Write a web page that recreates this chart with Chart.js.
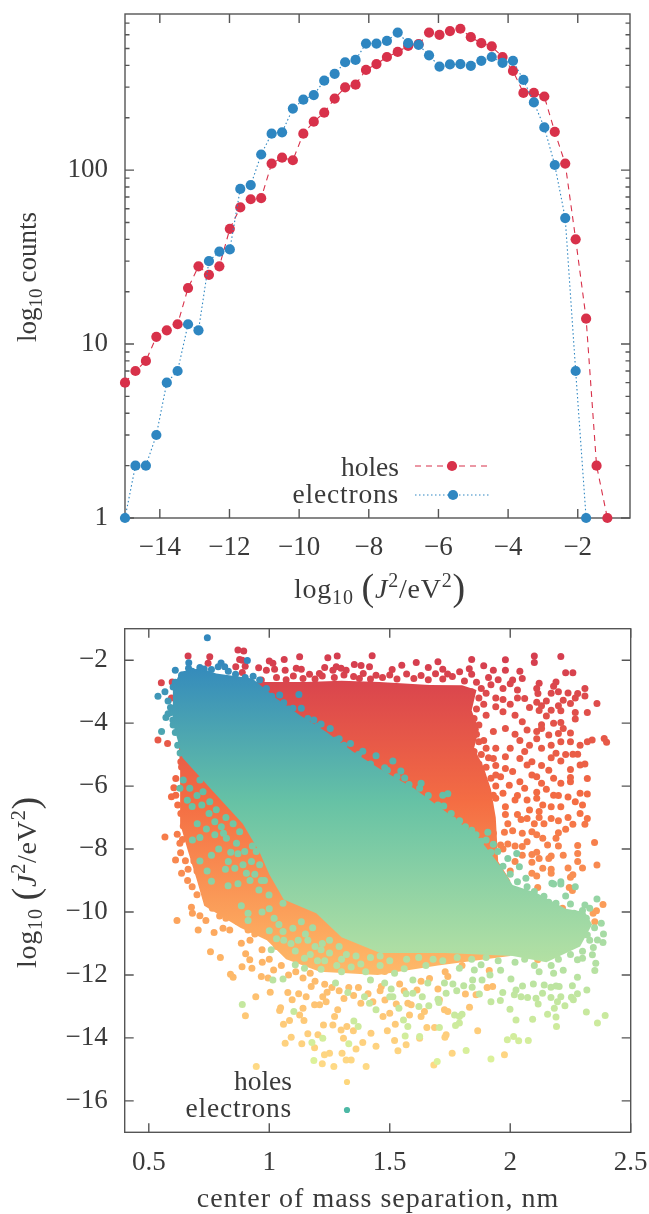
<!DOCTYPE html>
<html><head><meta charset="utf-8">
<style>html,body{margin:0;padding:0;background:#fff}canvas{display:block}</style>
<script src="https://cdn.jsdelivr.net/npm/chart.js@4"></script>
</head><body>
<canvas id="top" width="649" height="612"></canvas>
<canvas id="bottom" width="649" height="602"></canvas>
<script>
const binCentres=[-15,-14.7,-14.4,-14.1,-13.8,-13.49,-13.19,-12.89,-12.59,-12.29,-11.99,-11.69,-11.39,-11.09,-10.79,-10.49,-10.18,-9.88,-9.58,-9.28,-8.98,-8.68,-8.38,-8.08,-7.78,-7.48,-7.17,-6.87,-6.57,-6.27,-5.97,-5.67,-5.37,-5.07,-4.77,-4.47,-4.16,-3.86,-3.56,-3.26,-2.96,-2.66,-2.36,-2.06,-1.76,-1.46,-1.15];
const holeCounts=[6,7,8,11,12,13,21,28,25,28,46,61,68,69,109,118,114,162,190,214,258,299,310,377,407,447,478,518,530,618,600,630,650,581,537,514,447,372,278,278,265,166,109,40,14,2,1];
const electronCounts=[1,2,2,3,6,7,13,12,30,34,35,78,82,123,162,165,226,254,270,327,358,417,430,534,534,553,618,537,525,457,394,405,407,398,425,447,414,425,330,245,176,107,53,7,1];
const topXTicks=[-14,-12,-10,-8,-6,-4,-2];
const topYTicks=[1,10,100];
const topYMinor=[2,3,4,5,6,7,8,9,20,30,40,50,60,70,80,90,200,300,400,500,600,700];
const botXTicks=[0.5,1,1.5,2,2.5];
const botYTicks=[-2,-4,-6,-8,-10,-12,-14,-16];

// outlines of the solid parts of the two clouds
const holesCloud=[[.6,-2.8],[.75,-2.7],[.99,-2.69],[1.15,-2.69],[1.3,-2.65],[1.458,-2.69],[1.665,-2.79],[1.8,-2.8],[1.86,-2.95],[1.84,-3.6],[1.87,-4.2],[1.85,-4.8],[1.89,-5.4],[1.92,-6.1],[1.94,-7],[1.95,-8.4],[2,-9],[2,-11.4],[1.7,-11.7],[1.45,-12],[1.21,-11.9],[1.07,-11.5],[.99,-10.9],[.88,-10.5],[.73,-9.8],[.7,-9],[.66,-8],[.63,-7.2],[.63,-5.5],[.62,-4]];
const electronsCloud=[[.6,-2.9],[.63,-2.37],[.712,-2.26],[.78,-2.42],[.93,-2.58],[1.03,-3.22],[1.127,-3.75],[1.237,-4.28],[1.348,-4.91],[1.458,-5.45],[1.6,-6.07],[1.73,-6.8],[1.87,-7.66],[1.955,-8.5],[2.01,-9.14],[2.11,-9.4],[2.23,-9.9],[2.31,-10],[2.34,-10.4],[2.29,-11.1],[2.15,-11.6],[2.01,-11.4],[1.73,-11.3],[1.46,-11.3],[1.3,-10.8],[1.195,-10.04],[1.06,-9.6],[1.0,-8.8],[.96,-8.1],[.89,-7.2],[.77,-6.2],[.64,-5.1],[.6,-4]];

const holeDots=[[.663,-1.87],[.753,-1.89],[.87,-1.68],[.894,-1.71],[.877,-1.98],[.888,-2],[.746,-2.1],[.861,-2.21],[.9,-2.19],[.888,-2.39],[.956,-2.24],[1,-2.03],[1.015,-2.1],[1.062,-1.98],[1.126,-1.89],[1.243,-1.92],[1.282,-1.87],[1.427,-1.86],[1.353,-2.14],[1.381,-2.17],[1.416,-2.21],[1.23,-2.23],[.988,-2.32],[1.022,-2.29],[1.066,-2.32],[1.112,-2.26],[1.133,-2.29],[1.167,-2.45],[1.208,-2.42],[1.278,-2.21],[1.298,-2.26],[1.319,-2.32],[1.264,-2.32],[1.374,-2.58],[1.443,-2.48],[.967,-2.63],[.552,-2.72],[.597,-2.69],[.538,-4.54],[.578,-4.65],[.594,-3.2],[.633,-5.23],[.636,-5.39],[.612,-5.76],[.604,-6.05],[.594,-6.34],[.612,-6.29],[.633,-6.87],[.643,-7.27],[.567,-7.62],[.618,-7.53],[.629,-7.82],[.632,-8.12],[.611,-8.35],[.652,-8.37],[.687,-8.38],[.636,-8.77],[.663,-8.64],[.661,-9],[.673,-7.77],
[1.51,-2.3],[1.55,-2.16],[1.61,-2.07],[1.66,-2.23],[1.7,-2.05],[1.72,-2.29],[1.74,-2.44],[1.83,-2.27],[1.84,-1.98],[1.89,-2.18],[1.93,-2.32],[1.98,-2.32],[1.98,-1.99],[2.04,-2.35],[2.1,-1.87],[2.1,-2.07],[2.21,-1.88],[2.23,-2.4],[2.26,-2.4],[2.12,-2.73],[2.19,-2.69],[2.18,-2.83],[2.31,-2.9],[2.05,-2.58],[2.01,-2.63],[2.11,-2.9],[2.115,-3.06],[2.2,-3],[2.24,-3.04],[2.28,-3.06],[2.31,-3.14],[2.06,-3.22],[2.13,-3.45],[2.11,-3.34],[2.22,-3.27],[2.25,-3.38],[2.36,-3.38],[2.32,-3.66],[2.17,-3.59],[2.21,-3.61],[2.27,-3.66],[2.15,-3.77],[2.27,-3.87],[2.21,-3.98],[2.22,-4.17],[2.25,-4.31],[2.2,-4.33],[2.21,-4.59],[2.25,-4.59],[2.29,-4.7],[2.32,-4.59],[2.34,-4.54],[2.39,-4.49],[2.4,-4.61],[2.11,-4.27],[2.07,-4.22],[2.13,-4.17],[2.16,-4.38],[2.17,-4.7],[2.13,-4.8],[2.19,-4.96],[2.26,-4.99],[2.28,-4.99],[2.31,-5.3],[2.29,-5.33],[2.25,-5.47],[2.32,-5.76],[2.25,-5.73],[2.25,-5.86],[2.21,-5.91],[2.13,-5.91],[2.09,-5.65],[2.06,-6.07],[2.18,-6.29],[2.29,-6.23],[2.32,-6.25],[2.27,-6.5],[2.3,-6.6],[2.29,-6.87],[2.32,-7.03],[2.31,-7.21],[2.26,-7.21],[2.23,-7.37],[2.2,-7.48],[2.19,-7.66],[2.155,-7.87],[2.17,-8.22],[2.28,-7.89],[2.28,-8.14],[2.28,-8.4],[2.35,-7.79],[2.36,-8.51],[2.12,-8.3],[2.09,-8.17],[2.09,-8.42],[2.135,-8.61],[2.17,-8.64],[2.17,-8.77],[2.09,-8.77],[2.11,-8.86],[2.26,-8.82],[2.25,-8.9],
[1.94,-3.48],[1.97,-3.64],[1.9,-3.75],[1.87,-4.06],[1.93,-4.27],[1.98,-4.17],[2.02,-3.75],[2.05,-3.96],[1.94,-4.8],[1.9,-4.8],[1.98,-5.07],[1.93,-5.12],[1.87,-4.59],[2.04,-5.12],[2.09,-5.23],[2.07,-5.33],[2.01,-5.54],[1.98,-5.44],[1.94,-5.65],[2.04,-5.86],[1.996,-5.97],[1.97,-6.23],[1.93,-6.29],[2.02,-6.44],[1.98,-6.66],[1.94,-6.39],[2.07,-6.44],[2.11,-6.39],[2.135,-6.6],[2.17,-6.66],[2.21,-6.66],[2.12,-6.81],[2.08,-6.76],[2.045,-7.06],[2.07,-7.03],[2.17,-7.03],[2.01,-7.42],[2.05,-7.5],[2.09,-7.45],[2.11,-7.55],[2.135,-7.66],[2.07,-7.77],[2.05,-7.92],[1.976,-7.47],[1.96,-7.87],[1.99,-7.84],
[1.03,-2.55],[1.07,-2.62],[1.1,-2.5],[1.14,-2.58],[1.19,-2.6],[1.22,-2.5],[1.27,-2.55],[1.31,-2.47],[1.35,-2.52],[1.39,-2.42],[1.42,-2.6],[1.47,-2.55],[1.5,-2.47],[1.53,-2.6],[1.57,-2.44],[1.6,-2.58],[1.63,-2.49],[1.66,-2.62],[1.69,-2.43],[1.72,-2.6],[1.76,-2.52],[1.79,-2.37],[1.81,-2.66],[1.84,-2.45],[1.86,-2.7],[1.88,-2.9],[1.91,-2.55],[1.92,-2.78],[1.95,-2.62],[1.97,-2.9],[2,-2.75],[2.03,-2.95],[1.84,-3],[1.87,-3.2],[1.9,-3.05],[1.94,-3.2],[1.97,-3.25],[2,-3.4],[1.83,-3.35],[1.86,-3.55],[1.89,-3.4],[1.82,-3.7],[1.85,-3.85],[1.83,-4.2],[1.86,-4.35],[1.84,-4.6],[1.89,-4.55],[1.85,-4.9],[1.88,-5],[1.91,-5.1],[1.87,-5.3],[1.9,-5.4],[1.94,-5.35],[1.92,-5.75],[1.89,-5.85],[1.96,-5.7],[1.9,-6.1],[1.94,-6],
[2.02,-4.35],[2.04,-4.55],[2.08,-4.7],[2,-4.8],[2.06,-4.9],[2.12,-3.6],[2.03,-3.2],[2.08,-3.5],[2.17,-3.05],[2.15,-3.3],[2.27,-3.2],[2.2,-3.45],[2.18,-4],[2.13,-4.05],[2.11,-4.5],[2.21,-5.2],[2.17,-5.1],[2.23,-5],[2.16,-5.5],[2.13,-5.35],[2.18,-5.75],[2.11,-5.7],[2.15,-6.1],[2.11,-6.2],[2.03,-6.3],[2.24,-6.35],[2.2,-6.3],[2.14,-7.2],[2.12,-7],[2.03,-6.9],[1.99,-7.2],[2.1,-7.2],[2.2,-7.1],[2.24,-7],[2.05,-8.2],[2.02,-7.9],[1.97,-8],[2,-8.7],[2.02,-8.4],[1.95,-8.6],[2.11,-8.1],[2.16,-8.3],[2.2,-7.9],[2.22,-8.2],[2.24,-8.6],[2.3,-8.6],[1.98,-6.9],[1.92,-7],[1.93,-7.5],
[2.114,-9.22],[2.217,-9.88],[2.385,-9.76],[2.358,-9.96],[2.344,-10.04],[2.351,-10.31],[2.245,-9.22],[2.258,-9.32],[2.169,-9.83],[2.114,-11.52],[1.913,-11.86],[1.927,-12.37],[1.904,-12.4],[1.858,-12.63],[1.814,-12.61],[1.831,-13.03],[1.865,-13.77],[1.976,-14.54],[1.759,-14.49],[1.683,-14.86],[1.734,-13.9],[1.729,-13.98],[1.686,-13.67],[1.654,-13.67],[1.727,-13.11],[1.741,-13.16],[1.63,-13.32],[1.582,-13.27],[1.523,-13.57],[1.49,-13.77],[1.52,-14.08],[1.568,-14.22],[1.534,-14.41],[1.624,-14.01],[1.5,-13.22],[1.472,-13.32],[1.644,-13.16],[1.589,-12.95],[1.527,-12.92],[1.706,-12.79],[1.575,-12.9],[1.613,-12.48],[1.7,-12.45],[1.665,-12.11],[1.741,-12.05],[1.541,-12.29],[1.465,-12.37],[1.727,-11.42],[1.513,-11.63],[1.479,-11.89],[1.589,-11.15],[1.789,-10.73],[1.81,-10.89],[1.913,-10.76],
[.617,-10.27],[.756,-11.26],[.797,-11.45],[.839,-11.98],[.85,-12.07],[.887,-11.74],[.928,-11.79],[.705,-10.57],[.771,-10.65],[.808,-10.52],[.836,-10.57],[.677,-9.85],[.681,-10.04],[.712,-10.12],[.737,-10.27],[.764,-9.88],[.794,-10.13],[.822,-9.99],[.87,-10.31],[.912,-10.57],[.884,-10.99],[.902,-11.33],[.919,-11.52],[.971,-11.6],[.944,-12.69],[1.004,-12.55],[.901,-13.3],[.946,-14.91],[1.047,-13.04],[1.043,-13.13],[1.14,-13.06],[1.084,-13.45],[1.059,-13.57],[1.126,-13.27],[1.144,-13.45],[.967,-12.05],[.995,-12.1],[1.018,-11.84],[1.077,-12.56],[1.122,-12.6],[1.095,-12.79],[1.153,-12.69],[1.174,-12.37],[1.066,-14.17],[1.091,-13.98],[1.135,-14.19],[1.16,-13.87],[1.188,-14.31],[1.202,-13.9],[1.225,-13.59],[1.264,-13.59],[1.284,-13.11],[1.271,-13.32],[1.222,-12.69],[1.236,-12.85],[1.209,-12.95],[1.188,-12.95],[1.298,-13.75],[1.322,-13.64],[1.308,-14.01],[1.349,-13.77],[1.422,-13.85],[1.443,-14.27],[1.388,-14.15],[1.36,-14.35],[1.302,-14.49],[1.319,-14.7],[1.34,-14.7],[1.25,-14.49],[1.229,-14.54],[1.22,-14.82],[1.268,-14.91],[1.402,-14.91],
[.62,-6.6],[.65,-6.1],[.66,-5.5],[.64,-7.7],[.66,-7.1],[.68,-8],[.7,-8.7],[.73,-9.3],[.68,-9.2],[.7,-9.45],[.74,-9.6],[.78,-9.8],[.82,-10.2],[.86,-10.1],[.9,-10.4],[.94,-10.7],[.92,-10.9],[.97,-11.2],[1,-11.5],[1.03,-11.1],[1.05,-11.7],[1.08,-12],[1.11,-11.9],[1.14,-12.1],[1.17,-11.95],[1.19,-12.2],[1.23,-12.3],[1.26,-12.4],[1.24,-12.55],[1.29,-12.5],[1.31,-12.75],[1.33,-12.4],[1.35,-12.65],[1.37,-12.4],[1.38,-12.9],[1.41,-12.6],[1.43,-12.85],[1.46,-12.5],[1.48,-12.8],[1.56,-12.5],[1.63,-12.2],[1.73,-11.9],[1.8,-11.7]];

const electronDots=[[.743,-1.29],[.666,-2.08],[.909,-2.01],[.61,-2.32],[.665,-2.26],[.712,-2.23],[.8,-2.09],[.788,-2.21],[.815,-2.21],[.567,-3],[.538,-3.15],[.601,-2.85],[.636,-2.48],[.553,-4.27],[.571,-3.82],[.594,-3.66],[.601,-4.06],[.933,-2.51],[.96,-2.63],[.988,-2.9],[1.043,-3.11],[1.123,-3.09],[1.098,-3.53],[1.133,-3.53],[1.185,-3.9],[1.253,-4.17],[1.215,-4.03],[1.277,-4.54],[1.337,-4.65],[1.388,-4.89],[1.323,-5],[1.443,-5.04],[1.513,-5.2],[1.479,-5.42],[1.546,-5.52],[1.562,-5.74],[1.63,-5.91],[1.624,-6.07],[1.72,-6.29],[1.741,-6.24],[1.724,-6.63],[1.755,-6.87],[1.762,-7.08],[1.814,-7.29],[1.858,-7.55],[1.907,-7.47],[1.9,-7.71],[1.93,-7.85],[1.948,-8.08],[1.99,-8.3],[2.027,-8.14],[2.038,-8.56],[2.03,-9.04],[2.065,-8.93],[2.173,-9.09],[2.21,-9.04],
[.629,-6.07],[.643,-5.81],[.67,-6.07],[.712,-5.81],[.725,-6.18],[.753,-6.5],[.701,-7.2],[.739,-7.36],[.681,-7.71],[.712,-7.63],[.75,-6.87],[.774,-7.13],[.801,-7.29],[.774,-7.55],[.822,-7.66],[.864,-7.82],[.877,-7.45],[.898,-8.08],[.926,-8.4],[.712,-8.38],[.742,-8.7],[.818,-8.64],[.857,-8.61],[.891,-8.5],[.905,-8.77],[.946,-8.08],[.967,-9],[.76,-9.02],[.829,-9.17],[.884,-9.8],[.912,-10.04],[.912,-10.27],[.957,-9.3],[.999,-9.46],[1.057,-9.72],[1.057,-10.62],[1.098,-10.52],[1.133,-10.31],[1.008,-11.2],[1.108,-11.24],[1.146,-11.47],[1.108,-11.68],[1.146,-11.79],[1.015,-12.16],[1.057,-12.13],[1.215,-11.2],[1.215,-11.82],[1.275,-12.26],[1.326,-12.56],[1.42,-12.16],[1.395,-12.69],[1.416,-12.9],[1.443,-13.11],[.888,-12.94],[1.102,-13.16],[1.351,-13.46],[1.369,-13.64],[1.222,-14.01],[1.177,-14.15],[1.33,-14.19],[1.185,-14.72],
[1.25,-11.3],[1.3,-11.5],[1.34,-11.75],[1.38,-11.65],[1.4,-11.9],[1.28,-11.7],[1.19,-11.1],[1.16,-10.9],
[.66,-6.45],[.68,-6.65],[.72,-6.6],[.7,-6.3],[.78,-6.75],[.82,-7],[.85,-7.2],[.81,-7.5],[.84,-8.1],[.87,-8.15],[.79,-8],[.83,-8.4],[.76,-8.2],[.93,-7.9],[.96,-8.5],[.94,-8.8],[.87,-9.1],[.92,-9],[.98,-9],[1,-9.9],[1.02,-10.2],[.97,-10],[1.04,-10.4],[1,-10.6],[1.06,-10.9],[1.03,-10.85],[1.09,-11],[1.12,-10.9],[1.15,-10.7],[1.18,-10.5],[1.22,-11],[1.25,-10.9],[1.29,-11.1],[1.32,-11.35],[1.36,-11.4],[1.42,-11.45],[1.46,-11.4],[1.5,-11.55],[1.57,-11.5],[1.62,-11.45],[1.68,-11.5],[1.72,-11.55],[1.78,-11.45],[1.84,-11.5],[1.9,-11.45],[1.95,-11.55],[2.02,-11.6],[2.06,-11.5],[2.1,-11.7],[2.17,-11.7],[2.25,-11.35],[2.2,-11.5],[2.3,-11.25],[2.33,-10.9],[2.35,-10.5],[2.3,-9.95],[2.25,-9.75],[2.14,-9.5],[2.07,-9.2],[1.23,-11.55],[1.3,-11.9],[1.2,-11.55],[1.17,-11.35],
[.58,-3.3],[.59,-3.5],[.6,-3.9],[.61,-4.3],[.62,-4.7],[.63,-4.95],[.62,-3.1],[.61,-2.7],[.64,-2.6],[.58,-3.7],[.68,-2.35],[.73,-2.28],[.76,-2.3],[.83,-2.35],[.86,-2.45],[.9,-2.55],[.98,-3],[1.01,-3.15],[1.06,-3.35],[1.08,-3.55],[1.16,-3.85],[1.2,-4.1],[1.29,-4.5],[1.31,-4.7],[1.37,-5],[1.42,-5.3],[1.49,-5.5],[1.53,-5.7],[1.58,-5.95],[1.66,-6.3],[1.7,-6.6],[1.79,-7.1],[1.84,-7.4],[1.88,-7.75],[1.92,-8.1],[1.97,-8.55],[2,-8.8],
[2.01,-9.32],[2.05,-9.51],[2.1,-9.35],[2.11,-9.62],[2.18,-9.11],[2.21,-9.11],[2.27,-9.2],[2.12,-9.72],[2.16,-9.69],[2.19,-9.72],[2.23,-9.49],[2.36,-9.59],[2.31,-9.78],[2.33,-9.88],[2.265,-10.04],[2.316,-10.2],[2.378,-10.36],[2.32,-10.73],[2.387,-10.7],[2.362,-10.89],[2.385,-10.97],[2.345,-11.13],[2.341,-11.36],[2.355,-11.63],[2.351,-11.86],[2.3,-11.47],[2.279,-11.52],[2.279,-12.07],[2.258,-12.34],[2.318,-12.48],[2.279,-12.6],[2.254,-12.71],[2.262,-12.79],[2.227,-12.98],[2.19,-12.35],[2.169,-12.39],[2.203,-12.37],[2.21,-12.69],[2.196,-12.85],[2.169,-12.72],[2.134,-12.58],[2.141,-12.32],[2.107,-12.74],[2.116,-12.92],[2.072,-12.72],[2.045,-12.69],[2.017,-12.63],[1.969,-12.56],[1.959,-12.81],[1.92,-12.85],[1.999,-13.09],[2.024,-13.43],[2.093,-13.41],[2.155,-13.25],[2.19,-13.34],[2.192,-13.64],[2.183,-13.06],[2.316,-13.18],[2.362,-13.53],[2.394,-13.29],[2.014,-13.96],[2.035,-14.09],[2.075,-14.08],[1.988,-14.06],[1.92,-14.67],[1.817,-14.4],[1.697,-14.75],[1.789,-13.32],[1.769,-13.27],[1.8,-13.25],[1.773,-13.61],[1.789,-13.53],[1.706,-13.67],[1.624,-13.96],[1.564,-13.94],[1.575,-13.64],[1.557,-13.43],[1.538,-13.06],[1.621,-13],[1.662,-12.98],[1.7,-12.77],[1.704,-12.88],[1.635,-12.69],[1.596,-12.58],[1.568,-12.6],[1.513,-12.69],[1.5,-12.69],[1.506,-12.45],[1.479,-12.26],[1.596,-12.16],[1.658,-12.26],[1.727,-12.26],[1.734,-12.58],[1.762,-12.29],[1.778,-12.5],[1.807,-12.34],[1.842,-12.39],[1.872,-12.61],[1.883,-12.16],[1.916,-12],[1.844,-12.16],[1.789,-11.79],[1.851,-11.84],[1.879,-11.68],[2.003,-12.13],[2.024,-12.48],[2.051,-12.35],[2.096,-12.29],
[2.12,-11.9],[2.18,-11.95],[2.22,-11.85],[1.96,-11.85],[1.56,-11.8],[1.65,-11.7],[1.46,-11.7],[1.52,-11.95]];

const holePalette=[[-2,'#D53E4F'],[-6.5,'#F46D43'],[-11,'#FDAE61'],[-15.5,'#FEE08B']];
const electronPalette=[[-2,'#3288BD'],[-6.5,'#66C2A5'],[-11,'#ABDDA4'],[-15.5,'#E6F598']];

const ink='#3a3a3a', frameColor='#555555', serif='"Liberation Serif", serif';
const tickFont={family:'"Liberation Serif", serif',size:27};

function gradientFor(palette){
  return function(ctx){
    const c=ctx.chart;
    if(!c.chartArea||!c.scales.y) return palette[1][1];
    const y=c.scales.y, h=y.getPixelForValue(palette[0][0]), l=y.getPixelForValue(palette[3][0]);
    const g=c.ctx.createLinearGradient(0,h,0,l);
    palette.forEach((s,i)=>g.addColorStop(i/3,s[1]));
    return g;
  };
}
const minusLabel=v=>String(v).replace('-','\u2212');

function drawRuns(ctx,runs,cx,cy,rot,spacing){
  ctx.save();ctx.translate(cx,cy);if(rot)ctx.rotate(rot);
  ctx.fillStyle=ink;ctx.textBaseline='alphabetic';ctx.textAlign='left';
  ctx.letterSpacing=(spacing||0)+'px';
  const fontOf=r=>(r.i?'italic ':'')+r.s+'px '+serif;
  let w=0;runs.forEach(r=>{ctx.font=fontOf(r);w+=ctx.measureText(r.t).width});
  let x=-w/2;
  runs.forEach(r=>{ctx.font=fontOf(r);ctx.fillText(r.t,x,r.d||0);x+=ctx.measureText(r.t).width});
  ctx.restore();
}
const logRuns=[{t:'log',s:28},{t:'10',s:20,d:6},{t:' ',s:28}];
const jRuns=logRuns.concat([{t:'(',s:38,d:2},{t:'J',s:28,i:1},{t:'2',s:20,d:-11},{t:'/eV',s:28},{t:'2',s:20,d:-11},{t:')',s:38,d:2}]);
const countRuns=[{t:'log',s:27},{t:'10',s:19,d:6},{t:' ',s:24},{t:'counts',s:27}];

function drawLegendText(ctx,yHoles,yElectrons,right){
  ctx.save();ctx.font='27.5px '+serif;ctx.fillStyle=ink;ctx.textAlign='right';ctx.textBaseline='alphabetic';
  ctx.fillText('holes',right,yHoles);
  ctx.letterSpacing='0.8px';ctx.fillText('electrons',right,yElectrons);
  ctx.restore();
}
function framePlugin(majorX,majorY,minorY){
  return {id:'frame',beforeDatasetsDraw(chart){
    const {ctx,chartArea:a,scales:{x,y}}=chart;
    ctx.save();ctx.strokeStyle=frameColor;ctx.lineWidth=1.4;
    ctx.strokeRect(a.left,a.top,a.right-a.left,a.bottom-a.top);
    ctx.beginPath();
    majorX.forEach(v=>{const p=x.getPixelForValue(v);ctx.moveTo(p,a.bottom);ctx.lineTo(p,a.bottom-9);ctx.moveTo(p,a.top);ctx.lineTo(p,a.top+9);});
    majorY.forEach(v=>{const p=y.getPixelForValue(v);ctx.moveTo(a.left,p);ctx.lineTo(a.left+9,p);ctx.moveTo(a.right,p);ctx.lineTo(a.right-9,p);});
    (minorY||[]).forEach(v=>{const p=y.getPixelForValue(v);ctx.moveTo(a.left,p);ctx.lineTo(a.left+4.5,p);ctx.moveTo(a.right,p);ctx.lineTo(a.right-4.5,p);});
    ctx.stroke();ctx.restore();
  }};
}
function baseScale(tickList,cb,pad,fit){
  return {
    grid:{display:false,drawTicks:false},border:{display:false},
    afterBuildTicks(s){s.ticks=tickList.map(v=>({value:v}))},
    afterFit(s){fit(s);s.paddingLeft=s.paddingRight=s.paddingTop=s.paddingBottom=0},
    ticks:{font:tickFont,color:ink,padding:pad,autoSkip:false,maxRotation:0,callback:cb}
  };
}
const common=(r,t)=>({responsive:false,animation:false,events:[],
  layout:{autoPadding:false,padding:{left:0,right:r,top:t,bottom:0}},
  plugins:{legend:{display:false},tooltip:{enabled:false}}});

new Chart(document.getElementById('top'),{
  type:'scatter',
  data:{datasets:[
    {label:'holes',order:1,data:holeCounts.map((v,i)=>({x:binCentres[i],y:v})),showLine:true,borderColor:'#d8314a',borderWidth:1.1,borderDash:[6,5],pointRadius:5.1,pointBackgroundColor:'#d8314a',pointBorderWidth:0,clip:false},
    {label:'electrons',order:0,data:electronCounts.map((v,i)=>({x:binCentres[i],y:v})),showLine:true,borderColor:'#2e86c1',borderWidth:1.1,borderDash:[1.5,2.5],pointRadius:5.1,pointBackgroundColor:'#2e86c1',pointBorderWidth:0,clip:false}
  ]},
  options:Object.assign(common(19,14),{scales:{
    x:Object.assign(baseScale(topXTicks,minusLabel,14,s=>{s.height=94}),{type:'linear',min:-15,max:-0.5}),
    y:Object.assign(baseScale(topYTicks,v=>String(v),17,s=>{s.width=125}),{type:'logarithmic',min:1,max:790})
  }}),
  plugins:[framePlugin(topXTicks,topYTicks,topYMinor),{id:'texts',afterDraw(c){
    const ctx=c.ctx;
    drawRuns(ctx,jRuns,380,598,0,0.8);
    drawRuns(ctx,countRuns,36,277,-Math.PI/2);
    drawLegendText(ctx,476,503,399);
    ctx.save();ctx.lineWidth=1.1;
    ctx.strokeStyle='#d8314a';ctx.setLineDash([6,5]);ctx.beginPath();ctx.moveTo(415,466);ctx.lineTo(487,466);ctx.stroke();
    ctx.strokeStyle='#2e86c1';ctx.setLineDash([1.5,2.5]);ctx.beginPath();ctx.moveTo(415,495);ctx.lineTo(490,495);ctx.stroke();
    ctx.setLineDash([]);
    ctx.fillStyle='#d8314a';ctx.beginPath();ctx.arc(452,466,5.1,0,7);ctx.fill();
    ctx.fillStyle='#2e86c1';ctx.beginPath();ctx.arc(453,495,5.1,0,7);ctx.fill();
    ctx.restore();
  }}]
});

const toXY=a=>a.map(p=>({x:p[0],y:p[1]}));
const closed=a=>toXY(a.concat([a[0]]));
const cloud=(label,order,pts,pal)=>({label,order,data:closed(pts),showLine:true,fill:'shape',backgroundColor:gradientFor(pal),borderWidth:0,pointRadius:0,tension:0});
const dots=(label,order,pts,pal)=>({label,order,data:toXY(pts),pointRadius:3.5,pointBorderWidth:0,pointBackgroundColor:gradientFor(pal)});

new Chart(document.getElementById('bottom'),{
  type:'scatter',
  data:{datasets:[
    cloud('holes region',3,holesCloud,holePalette),
    dots('holes',2,holeDots,holePalette),
    cloud('electrons region',1,electronsCloud,electronPalette),
    dots('electrons',0,electronDots,electronPalette)
  ]},
  options:Object.assign(common(18.3,16.7),{scales:{
    x:Object.assign(baseScale(botXTicks,v=>String(v),14,s=>{s.height=602-520.3}),{type:'linear',min:0.4,max:2.5}),
    y:Object.assign(baseScale(botYTicks,minusLabel,17,s=>{s.width=124.7}),{type:'linear',min:-17,max:-1})
  }}),
  plugins:[framePlugin(botXTicks,botYTicks),{id:'texts',afterDraw(c){
    const ctx=c.ctx;
    drawRuns(ctx,jRuns,36,270,-Math.PI/2,0.8);
    drawRuns(ctx,[{t:'center of mass separation, nm',s:28}],378,595,0,1);
    drawLegendText(ctx,478,505,292);
    ctx.save();
    ctx.fillStyle='#fdd67c';ctx.beginPath();ctx.arc(347,470,3.1,0,7);ctx.fill();
    ctx.fillStyle='#4db8a5';ctx.beginPath();ctx.arc(347,498,3.1,0,7);ctx.fill();
    ctx.restore();
  }}]
});
</script>
</body></html>
